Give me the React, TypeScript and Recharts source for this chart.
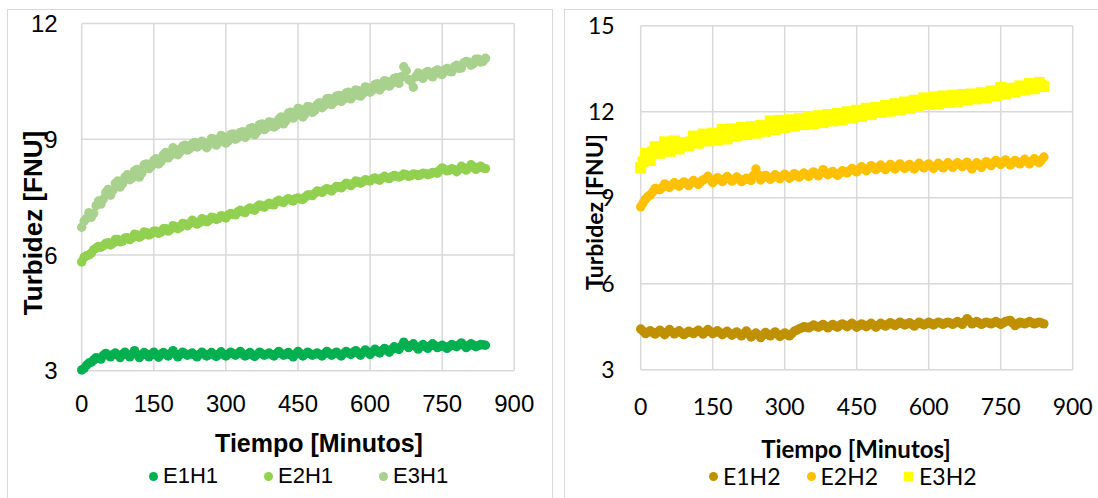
import React from "react";
import { ScatterChart, Scatter, XAxis, YAxis, CartesianGrid, Legend } from "recharts";

// sampling times, minutes (readings on the 10s and the 5s)
const minutes = [
  0, 10, 20, 30, 40, 50, 60, 70, 80, 90,
  100, 110, 120, 130, 140, 150, 160, 170, 180, 190,
  200, 210, 220, 230, 240, 250, 260, 270, 280, 290,
  300, 310, 320, 330, 340, 350, 360, 370, 380, 390,
  400, 410, 420, 430, 440, 450, 460, 470, 480, 490,
  500, 510, 520, 530, 540, 550, 560, 570, 580, 590,
  600, 610, 620, 630, 640, 650, 660, 670, 680, 690,
  700, 710, 720, 730, 740, 750, 760, 770, 780, 790,
  800, 810, 820, 830, 840,
];
const minutesB = [
  5, 15, 25, 35, 45, 55, 65, 75, 85, 95,
  105, 115, 125, 135, 145, 155, 165, 175, 185, 195,
  205, 215, 225, 235, 245, 255, 265, 275, 285, 295,
  305, 315, 325, 335, 345, 355, 365, 375, 385, 395,
  405, 415, 425, 435, 445, 455, 465, 475, 485, 495,
  505, 515, 525, 535, 545, 555, 565, 575, 585, 595,
  605, 615, 625, 635, 645, 655, 665, 675, 685, 695,
  705, 715, 725, 735, 745, 755, 765, 775, 785, 795,
  805, 815, 825, 835,
];

const xTicks = [0, 150, 300, 450, 600, 750, 900];
const yTicksH1 = [3, 6, 9, 12];
const yTicksH2 = [3, 6, 9, 12, 15];

// turbidity, FNU
const e1h1 = [
  3.02, 3.14, 3.22, 3.34, 3.3, 3.45, 3.36, 3.46, 3.34, 3.48,
  3.36, 3.52, 3.34, 3.47, 3.36, 3.48, 3.35, 3.47, 3.38, 3.52,
  3.36, 3.48, 3.4, 3.46, 3.36, 3.48, 3.38, 3.47, 3.37, 3.49,
  3.38, 3.48, 3.4, 3.5, 3.38, 3.47, 3.37, 3.48, 3.4, 3.46,
  3.38, 3.5, 3.4, 3.47, 3.36, 3.5, 3.38, 3.48, 3.4, 3.46,
  3.38, 3.5, 3.4, 3.48, 3.38, 3.5, 3.42, 3.52, 3.4, 3.54,
  3.42, 3.56, 3.46, 3.58, 3.48, 3.62, 3.55, 3.74, 3.6, 3.7,
  3.56, 3.68, 3.58, 3.7, 3.6, 3.66, 3.58, 3.68, 3.62, 3.72,
  3.6, 3.7, 3.62, 3.68, 3.66,
];
const e1h1B = [
  3.06, 3.2, 3.28, 3.32, 3.4, 3.4, 3.42, 3.4, 3.43, 3.41,
  3.44, 3.42, 3.41, 3.43, 3.42, 3.41, 3.43, 3.42, 3.45, 3.43,
  3.42, 3.44, 3.43, 3.41, 3.42, 3.43, 3.42, 3.41, 3.43, 3.42,
  3.43, 3.44, 3.45, 3.43, 3.42, 3.41, 3.42, 3.44, 3.43, 3.42,
  3.44, 3.45, 3.43, 3.41, 3.43, 3.44, 3.43, 3.44, 3.43, 3.42,
  3.44, 3.45, 3.44, 3.43, 3.44, 3.46, 3.47, 3.46, 3.47, 3.48,
  3.49, 3.51, 3.52, 3.54, 3.55, 3.58, 3.64, 3.67, 3.65, 3.63,
  3.62, 3.63, 3.64, 3.65, 3.63, 3.62, 3.63, 3.65, 3.67, 3.66,
  3.65, 3.66, 3.65, 3.67,
];
const e2h1 = [
  5.82, 5.98, 6.05, 6.18, 6.2, 6.3, 6.26, 6.4, 6.34, 6.44,
  6.4, 6.54, 6.46, 6.6, 6.52, 6.62, 6.56, 6.68, 6.62, 6.76,
  6.68, 6.82, 6.76, 6.9, 6.8, 6.94, 6.86, 6.98, 6.92, 7.02,
  6.96, 7.08, 7.04, 7.16, 7.1, 7.22, 7.16, 7.3, 7.24, 7.34,
  7.3, 7.42, 7.36, 7.46, 7.4, 7.48, 7.44, 7.56, 7.54, 7.66,
  7.62, 7.72, 7.66, 7.78, 7.74, 7.86, 7.8, 7.92, 7.86, 7.95,
  7.92, 8.0, 7.94, 8.04, 7.98, 8.06, 8.02, 8.1, 8.04, 8.1,
  8.06, 8.12, 8.08, 8.14, 8.12, 8.26, 8.18, 8.24, 8.16, 8.3,
  8.2, 8.34, 8.22, 8.3, 8.24,
];
const e2h1B = [
  5.94, 6.0, 6.14, 6.22, 6.24, 6.32, 6.3, 6.4, 6.36, 6.45,
  6.44, 6.52, 6.5, 6.58, 6.55, 6.62, 6.6, 6.68, 6.66, 6.74,
  6.72, 6.8, 6.82, 6.86, 6.84, 6.92, 6.9, 6.96, 6.95, 7.0,
  7.04, 7.05, 7.12, 7.12, 7.18, 7.18, 7.25, 7.26, 7.3, 7.31,
  7.38, 7.38, 7.42, 7.42, 7.46, 7.45, 7.5, 7.56, 7.6, 7.65,
  7.68, 7.7, 7.72, 7.77, 7.8, 7.84, 7.85, 7.9, 7.9, 7.93,
  7.97, 7.96, 8.0, 8.0, 8.03, 8.04, 8.05, 8.08, 8.06, 8.09,
  8.08, 8.11, 8.1, 8.14, 8.2, 8.22, 8.2, 8.21, 8.22, 8.26,
  8.26, 8.29, 8.27, 8.26,
];
const e3h1 = [
  6.72, 6.95, 6.98, 7.28, 7.32, 7.62, 7.55, 7.86, 7.76, 8.02,
  7.95, 8.18, 8.02, 8.34, 8.24, 8.45, 8.36, 8.6, 8.52, 8.78,
  8.6, 8.82, 8.72, 8.88, 8.8, 8.95, 8.78, 9.02, 8.85, 9.1,
  8.9, 9.12, 9.0, 9.18, 9.05, 9.28, 9.12, 9.38, 9.25, 9.45,
  9.32, 9.52, 9.4, 9.68, 9.55, 9.8, 9.58, 9.85, 9.7, 9.9,
  9.82, 10.05, 9.9, 10.12, 9.98, 10.2, 10.05, 10.28, 10.12, 10.36,
  10.22, 10.42, 10.28, 10.52, 10.38, 10.58, 10.45, 10.88, 10.55, 10.35,
  10.72, 10.58, 10.76, 10.62, 10.8, 10.68, 10.84, 10.75, 10.92, 10.85,
  11.02, 10.92, 11.08, 11.0, 11.1,
];
const e3h1B = [
  6.88, 7.1, 7.08, 7.4, 7.45, 7.7, 7.68, 7.92, 7.85, 8.08,
  8.0, 8.22, 8.12, 8.36, 8.3, 8.5, 8.42, 8.66, 8.58, 8.74,
  8.68, 8.85, 8.76, 8.92, 8.84, 8.92, 8.86, 9.0, 8.92, 9.06,
  8.96, 9.14, 9.04, 9.2, 9.12, 9.3, 9.2, 9.4, 9.3, 9.44,
  9.36, 9.58, 9.48, 9.7, 9.62, 9.78, 9.66, 9.84, 9.75, 9.95,
  9.88, 10.06, 9.96, 10.14, 10.04, 10.22, 10.12, 10.26, 10.18, 10.34,
  10.28, 10.44, 10.36, 10.5, 10.44, 10.6, 10.62, 10.78, 10.5, 10.62,
  10.68, 10.72, 10.66, 10.76, 10.7, 10.8, 10.76, 10.88, 10.84, 10.98,
  11.0, 10.96, 11.08, 11.02,
];
const e1h2 = [
  4.42, 4.26, 4.36, 4.24, 4.38, 4.22, 4.4, 4.25, 4.36, 4.22,
  4.34, 4.26, 4.38, 4.24, 4.4, 4.26, 4.36, 4.22, 4.34, 4.2,
  4.32, 4.18, 4.35, 4.14, 4.28, 4.12, 4.3, 4.18, 4.32, 4.16,
  4.28, 4.18, 4.34, 4.42, 4.5, 4.46, 4.56, 4.48, 4.58, 4.46,
  4.58, 4.48, 4.6, 4.5, 4.62, 4.48, 4.6, 4.5, 4.62, 4.48,
  4.62, 4.52, 4.64, 4.54, 4.66, 4.56, 4.64, 4.52, 4.66, 4.56,
  4.66, 4.56, 4.66, 4.58, 4.66, 4.58, 4.68, 4.58, 4.78, 4.6,
  4.68, 4.58, 4.66, 4.6, 4.68, 4.58, 4.68, 4.72, 4.54, 4.66,
  4.6, 4.68, 4.6, 4.66, 4.6,
];
const e1h2B = [
  4.34, 4.31, 4.3, 4.31, 4.3, 4.31, 4.32, 4.3, 4.29, 4.28,
  4.3, 4.32, 4.31, 4.32, 4.33, 4.31, 4.29, 4.28, 4.27, 4.26,
  4.25, 4.26, 4.24, 4.21, 4.2, 4.21, 4.24, 4.25, 4.24, 4.22,
  4.23, 4.26, 4.38, 4.46, 4.48, 4.51, 4.52, 4.53, 4.52, 4.52,
  4.53, 4.55, 4.55, 4.56, 4.55, 4.54, 4.55, 4.56, 4.55, 4.55,
  4.57, 4.58, 4.59, 4.6, 4.61, 4.6, 4.58, 4.59, 4.61, 4.6,
  4.61, 4.61, 4.62, 4.62, 4.62, 4.63, 4.63, 4.68, 4.69, 4.64,
  4.63, 4.62, 4.63, 4.64, 4.63, 4.63, 4.7, 4.63, 4.6, 4.63,
  4.64, 4.64, 4.63, 4.63,
];
const e2h2 = [
  8.68, 8.95, 9.1, 9.32, 9.28, 9.48, 9.36, 9.52, 9.4, 9.55,
  9.42, 9.6, 9.46, 9.62, 9.75, 9.52, 9.7, 9.56, 9.74, 9.58,
  9.72, 9.56, 9.68, 9.6, 10.0, 9.62, 9.78, 9.64, 9.8, 9.66,
  9.82, 9.68, 9.84, 9.72, 9.86, 9.74, 9.9, 9.76, 9.98, 9.8,
  9.92, 9.78, 9.94, 9.86, 10.02, 9.9, 10.08, 9.94, 10.12, 9.98,
  10.14, 9.98, 10.16, 10.0, 10.18, 10.02, 10.16, 10.0, 10.2, 10.04,
  10.18, 10.02, 10.2, 10.04, 10.22, 10.06, 10.22, 10.08, 10.24, 10.0,
  10.22, 10.06, 10.26, 10.12, 10.3, 10.16, 10.32, 10.14, 10.3, 10.18,
  10.34, 10.18, 10.36, 10.22, 10.42,
];
const e2h2B = [
  8.82, 9.04, 9.2, 9.3, 9.36, 9.42, 9.44, 9.46, 9.48, 9.5,
  9.52, 9.53, 9.55, 9.66, 9.64, 9.61, 9.63, 9.65, 9.66, 9.64,
  9.65, 9.62, 9.64, 9.78, 9.8, 9.7, 9.72, 9.71, 9.73, 9.74,
  9.76, 9.75, 9.78, 9.79, 9.8, 9.82, 9.84, 9.86, 9.88, 9.86,
  9.85, 9.86, 9.9, 9.94, 9.96, 9.99, 10.01, 10.03, 10.05, 10.06,
  10.05, 10.07, 10.08, 10.09, 10.1, 10.09, 10.08, 10.1, 10.12, 10.11,
  10.1, 10.11, 10.12, 10.13, 10.14, 10.14, 10.15, 10.16, 10.12, 10.11,
  10.14, 10.16, 10.19, 10.21, 10.23, 10.24, 10.23, 10.22, 10.24, 10.26,
  10.26, 10.27, 10.29, 10.32,
];
const e3h2 = [
  10.05, 10.55, 10.3, 10.78, 10.55, 10.95, 10.62, 10.98, 10.7, 10.92,
  10.8, 11.15, 10.9, 11.22, 10.98, 11.25, 11.02, 11.38, 11.05, 11.4,
  11.15, 11.45, 11.2, 11.48, 11.25, 11.52, 11.32, 11.68, 11.38, 11.7,
  11.45, 11.72, 11.5, 11.76, 11.55, 11.82, 11.58, 11.86, 11.62, 11.9,
  11.68, 11.94, 11.72, 12.0, 11.8, 12.05, 11.84, 12.12, 11.9, 12.15,
  11.98, 12.22, 12.02, 12.28, 12.08, 12.34, 12.12, 12.4, 12.18, 12.48,
  12.25, 12.52, 12.28, 12.55, 12.32, 12.58, 12.36, 12.6, 12.4, 12.62,
  12.45, 12.66, 12.48, 12.72, 12.55, 12.85, 12.62, 12.82, 12.68, 12.9,
  12.75, 12.98, 12.8, 13.02, 12.88,
];
const e3h2B = [
  10.25, 10.48, 10.6, 10.7, 10.72, 10.82, 10.84, 10.8, 10.86, 10.82,
  10.95, 11.05, 11.02, 11.12, 11.08, 11.16, 11.18, 11.25, 11.2, 11.3,
  11.28, 11.36, 11.32, 11.4, 11.36, 11.46, 11.48, 11.56, 11.52, 11.6,
  11.56, 11.64, 11.6, 11.68, 11.66, 11.72, 11.7, 11.76, 11.74, 11.82,
  11.8, 11.86, 11.84, 11.92, 11.9, 11.96, 11.96, 12.04, 12.0, 12.08,
  12.08, 12.15, 12.12, 12.2, 12.18, 12.26, 12.24, 12.32, 12.3, 12.38,
  12.36, 12.42, 12.4, 12.46, 12.42, 12.5, 12.46, 12.52, 12.48, 12.56,
  12.54, 12.6, 12.58, 12.66, 12.72, 12.76, 12.7, 12.78, 12.76, 12.85,
  12.88, 12.86, 12.94, 12.92,
];

const toPoints = (a: number[], b: number[]) => [
  ...a.map((v, i) => ({ t: minutes[i], v })),
  ...b.map((v, i) => ({ t: minutesB[i], v })),
];

const ARIAL = "'Liberation Sans', Arial, sans-serif";
const CALIBRI = "Lato, 'Open Sans', sans-serif";

const dot = (props: any) => <circle cx={props.cx} cy={props.cy} r={4.7} fill={props.fill} />;
const square = (props: any) => (
  <rect x={props.cx - 5.5} y={props.cy - 5.5} width={11} height={11} fill={props.fill} />
);

function makeLegend(font: string, size: number, gap: number) {
  return (props: any) => (
    <div style={{ display: "flex", alignItems: "center", fontFamily: font, fontSize: size, color: "#000", whiteSpace: "nowrap" }}>
      {(props.payload || []).map((p: any, i: number) => (
        <span key={p.value} style={{ display: "flex", alignItems: "center", marginLeft: i ? gap : 0 }}>
          {p.type === "square" ? (
            <span style={{ width: 9, height: 9, background: p.color, marginRight: 6 }} />
          ) : (
            <span style={{ width: 9, height: 9, borderRadius: "50%", background: p.color, marginRight: 5 }} />
          )}
          {p.value}
        </span>
      ))}
    </div>
  );
}

const panelBorder: React.CSSProperties = {
  position: "absolute",
  border: "1px solid #d9d9d9",
  top: 9,
  height: 520,
  boxSizing: "border-box",
};

export default function App() {
  return (
    <div style={{ position: "absolute", left: 0, top: 0, width: 1098, height: 498, overflow: "hidden", background: "#fff" }}>
      <div style={{ ...panelBorder, left: 7, width: 546 }} />
      <div style={{ ...panelBorder, left: 564, width: 560 }} />

      {/* H1 panel */}
      <div style={{ position: "absolute", left: 0, top: 0 }}>
        <ScatterChart width={553} height={498} margin={{ top: 23.6, right: 38.7, bottom: 97.3, left: 21.7 }}>
          <CartesianGrid stroke="#d9d9d9" strokeWidth={1.5} />
          <XAxis type="number" dataKey="t" domain={[0, 900]} ticks={xTicks} height={30} axisLine={false} tickLine={false}
            tickSize={0} tickMargin={24} tick={{ fontFamily: ARIAL, fontSize: 24, fill: "#000" }} />
          <YAxis type="number" dataKey="v" domain={[3, 12]} ticks={yTicksH1} width={60} axisLine={false} tickLine={false}
            tickSize={0} tickMargin={24} tick={{ fontFamily: ARIAL, fontSize: 24, fill: "#000" }} />
          <Legend layout="horizontal" verticalAlign="middle" align="center" content={makeLegend(ARIAL, 22, 46)}
            wrapperStyle={{ left: 149, top: 463, width: "auto" }} />
          <Scatter name="E1H1" data={toPoints(e1h1, e1h1B)} fill="#00B050" legendType="circle" shape={dot} isAnimationActive={false} />
          <Scatter name="E2H1" data={toPoints(e2h1, e2h1B)} fill="#92D050" legendType="circle" shape={dot} isAnimationActive={false} />
          <Scatter name="E3H1" data={toPoints(e3h1, e3h1B)} fill="#A9D18E" legendType="circle" shape={dot} isAnimationActive={false} />
        </ScatterChart>
      </div>
      <div style={{ position: "absolute", left: 319, top: 443, transform: "translate(-50%, -50%)", fontFamily: ARIAL, fontWeight: "bold", fontSize: 25, whiteSpace: "nowrap" }}>
        Tiempo [Minutos]
      </div>
      <div style={{ position: "absolute", left: 33, top: 223, transform: "translate(-50%, -50%) rotate(-90deg)", fontFamily: ARIAL, fontWeight: "bold", fontSize: 26, whiteSpace: "nowrap" }}>
        Turbidez [FNU]
      </div>

      {/* H2 panel */}
      <div style={{ position: "absolute", left: 553, top: 0 }}>
        <ScatterChart width={545} height={498} margin={{ top: 25.7, right: 25.3, bottom: 98.3, left: 27.7 }}>
          <CartesianGrid stroke="#d9d9d9" strokeWidth={1.5} />
          <XAxis type="number" dataKey="t" domain={[0, 900]} ticks={xTicks} height={30} axisLine={false} tickLine={false}
            tickSize={0} tickMargin={29} tick={{ fontFamily: CALIBRI, fontSize: 23, fill: "#000" }} />
          <YAxis type="number" dataKey="v" domain={[3, 15]} ticks={yTicksH2} width={60} axisLine={false} tickLine={false}
            tickSize={0} tickMargin={26} tick={{ fontFamily: CALIBRI, fontSize: 23, fill: "#000" }} />
          <Legend layout="horizontal" verticalAlign="middle" align="center" content={makeLegend(CALIBRI, 23, 26)}
            wrapperStyle={{ left: 156, top: 462, width: "auto" }} />
          <Scatter name="E1H2" data={toPoints(e1h2, e1h2B)} fill="#BF9000" legendType="circle" shape={dot} isAnimationActive={false} />
          <Scatter name="E2H2" data={toPoints(e2h2, e2h2B)} fill="#FFC000" legendType="circle" shape={dot} isAnimationActive={false} />
          <Scatter name="E3H2" data={toPoints(e3h2, e3h2B)} fill="#FFFF00" legendType="square" shape={square} isAnimationActive={false} />
        </ScatterChart>
      </div>
      <div style={{ position: "absolute", left: 856, top: 448, transform: "translate(-50%, -50%)", fontFamily: CALIBRI, fontWeight: "bold", fontSize: 24, whiteSpace: "nowrap" }}>
        Tiempo [Minutos]
      </div>
      <div style={{ position: "absolute", left: 594, top: 212, transform: "translate(-50%, -50%) rotate(-90deg)", fontFamily: CALIBRI, fontWeight: "bold", fontSize: 23, whiteSpace: "nowrap" }}>
        Turbidez [FNU]
      </div>
    </div>
  );
}
